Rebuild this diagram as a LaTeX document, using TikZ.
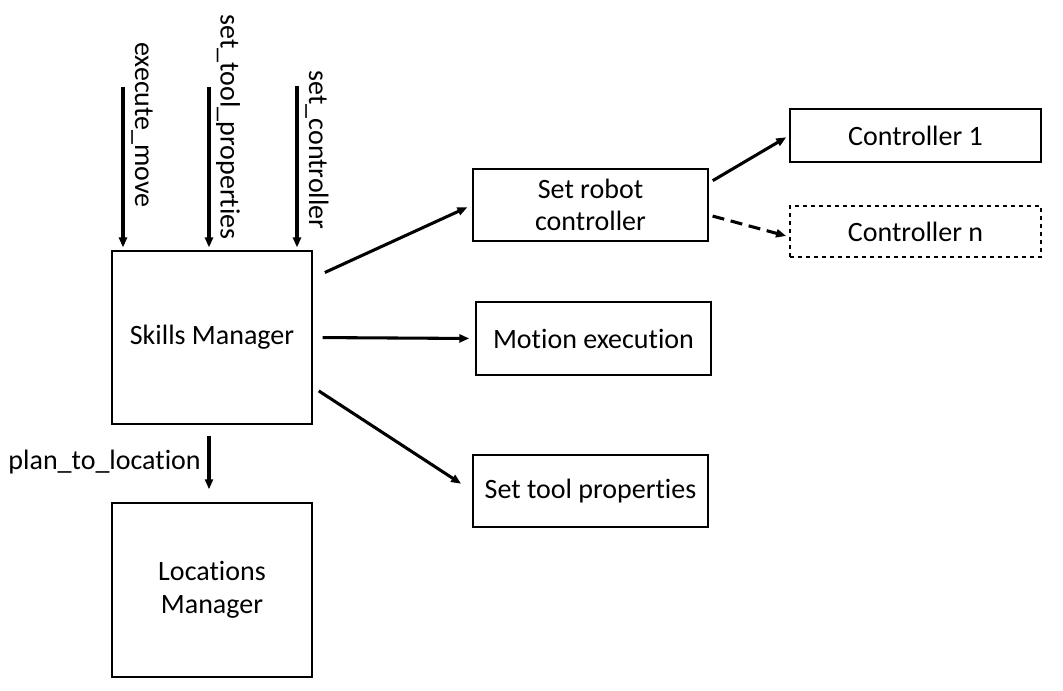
\documentclass[tikz,border=0pt]{standalone}
\usepackage{fontspec}
\setmainfont{Carlito}[Ligatures=NoCommon]
\usetikzlibrary{arrows.meta,positioning}
\tikzset{
	%Define standard arrow tip
	>={Triangle[length=7.5pt,width=6pt]},
	%Define style for boxes
	modul/.style={
		rectangle,
		draw=black, line width=1.1pt,
		inner sep=0pt,
		align=center,
		font=\fontsize{21}{24.5}\selectfont},
	% Define style for call labels
	lbl/.style={
		inner sep=0pt,
		font=\fontsize{21}{24}\selectfont},
	% Define arrow style
	call/.style={
		->,
		line width=2.3pt,
		shorten <=2pt,
		shorten >=2pt,}
}

\begin{document}
\begin{tikzpicture}[x=0.75pt, y=-0.75pt]

	\useasboundingbox (0,0) rectangle (1063,690);

	\node[modul, minimum width=150pt, minimum height=130pt] (skills) at (212,337.5) {Skills Manager};
	\node[modul, minimum width=150pt, minimum height=130.5pt] (locations) at (212,590) {Locations\\Manager};
	\node[modul, minimum width=176.25pt, minimum height=54pt] (setrobot) at (590.5,205) {Set robot\\controller};
	\node[modul, minimum width=176.25pt, minimum height=54.75pt] (motion) at (593.5,338.5) {Motion execution};
	\node[modul, minimum width=176.25pt, minimum height=54pt] (toolprops) at (590.5,491) {Set tool properties};
	\node[modul, minimum width=188.25pt, minimum height=39.75pt] (ctrlone) at (915.5,135.5) {Controller 1};
	\node[modul, dashed, line width=0.8pt, minimum width=188.25pt, minimum height=38.25pt] (ctrln) at (915.5,231.5) {Controller n};

	% incoming calls
	\coordinate (em) at (123,87);
	\coordinate (stp) at (209,87);
	\coordinate (sc) at (297,86);
	\node[lbl, rotate=-90] (emlbl) at (142,125) {execute\_move};
	\node[lbl, rotate=-90] (stplbl) at (228,127) {set\_tool\_properties};
	\node[lbl, rotate=-90] (sclbl) at (317,150) {set\_controller};
	\foreach \c in {em,stp,sc}
		\draw[call, shorten <=0pt] (\c) -- (\c |- skills.north);

	\draw[call, shorten <=8.25pt, shorten >=9.75pt] ([xshift=-2.25pt]skills.south) -- ([xshift=-2.25pt]locations.north);
	\node[lbl, anchor=east] (ptllbl) at (201,462) {plan\_to\_location};

	% outgoing calls
	\draw[call, shorten <=10pt, shorten >=4pt] ([yshift=44.6pt]skills.east) -- (setrobot.west);
	\draw[call, shorten <=7.5pt, shorten >=4.5pt] (skills.east) -- (motion.west);
	\draw[call, shorten <=5.4pt, shorten >=10pt] ([yshift=-37.1pt]skills.east) -- (toolprops.west);
	\draw[call, shorten <=3.5pt, shorten >=2.6pt] ([yshift=16.5pt]setrobot.east) -- (ctrlone.west);
	\draw[call, dash pattern=on 9pt off 5pt, shorten <=3pt, shorten >=2.6pt] ([yshift=-7.5pt]setrobot.east) -- ([yshift=-4pt]ctrln.west);

\end{tikzpicture}
\end{document}
